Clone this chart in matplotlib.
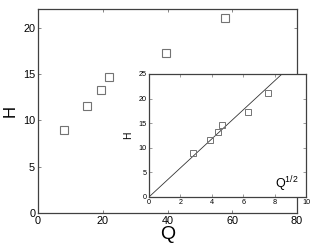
import matplotlib
matplotlib.use('Agg')
import matplotlib.pyplot as plt
import numpy as np

plt.rcParams['font.family'] = ['Liberation Sans', 'DejaVu Sans']
plt.rcParams['mathtext.default'] = 'regular'

# data
Q = np.array([8.0, 15.1, 19.5, 21.8, 39.5, 57.6])
H = np.array([9.0, 11.6, 13.3, 14.7, 17.3, 21.1])
slope = 2.95  # fitted line H = slope * sqrt(Q)

gray = '0.45'
spine = '0.25'

fig = plt.figure(figsize=(3.14, 2.49), dpi=100)

# main axes
ax = fig.add_axes([0.121, 0.145, 0.825, 0.817])
ax.plot(Q, H, 's', ms=5.5, mfc='none', mec=gray, mew=0.8)
ax.set_xlim(0, 80)
ax.set_ylim(0, 22)
ax.set_xticks([0, 20, 40, 60, 80])
ax.set_yticks([0, 5, 10, 15, 20])
ax.tick_params(direction='in', length=2.5, width=0.6, color=gray,
               labelsize=7.8, pad=2, top=True, right=True)
for s in ax.spines.values():
    s.set_color(spine)
    s.set_linewidth(0.9)
ax.set_xlabel('Q', fontsize=14)
ax.set_ylabel('H', fontsize=12)
ax.xaxis.set_label_coords(0.5, -0.065)
ax.yaxis.set_label_coords(-0.077, 0.5)

# inset
ins = fig.add_axes([0.4745, 0.209, 0.50, 0.494])
sq = np.sqrt(Q)
xl = np.array([0, 25 / slope])
ins.plot(xl, slope * xl, '-', color='0.2', lw=0.6)
ins.plot(sq, H, 's', ms=4.5, mfc='none', mec=gray, mew=0.7)
ins.set_xlim(0, 10)
ins.set_ylim(0, 25)
ins.set_xticks([0, 2, 4, 6, 8, 10])
ins.set_yticks([0, 5, 10, 15, 20, 25])
ins.tick_params(direction='in', length=2, width=0.5, color=gray,
                labelsize=5.2, pad=1.5, top=True, right=True)
for s in ins.spines.values():
    s.set_color(spine)
    s.set_linewidth(0.9)
ins.set_ylabel('H', fontsize=7.5)
ins.yaxis.set_label_coords(-0.102, 0.5)
ins.text(0.95, 0.07, r'Q$^{1/2}$', transform=ins.transAxes, ha='right',
         va='baseline', fontsize=9)

fig.savefig('out.png', dpi=100)
